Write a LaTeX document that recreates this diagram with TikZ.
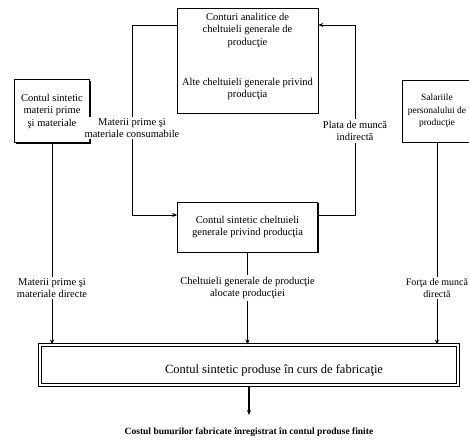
\documentclass[tikz,border=0pt]{standalone}
\usepackage{fontspec}
\setmainfont{Liberation Serif}
\usetikzlibrary{arrows.meta, positioning, shadows}

\begin{document}
\begin{tikzpicture}[x=1pt, y=-1pt,
  every node/.style={font=\fontsize{10.5}{12.5}\selectfont, align=center},
  box/.style={rectangle, draw, line width=0.6pt, fill=white, inner sep=0pt},
  shadowbox/.style={box, drop shadow={opacity=1, fill=black,
                    shadow xshift=1.3pt, shadow yshift=-1.3pt}},
  lbl/.style={fill=white, inner sep=1.5pt},
  arr/.style={-{Stealth[length=5pt, width=4pt]}, line width=0.6pt},
]
\useasboundingbox (0,0) rectangle (469,441);

% ---- boxes ----
\node[shadowbox, minimum width=141pt, minimum height=105pt] (an) at (247.5,60.5) {};
\node (antxt) at (247.5,30) {Conturi analitice de\\cheltuieli generale de\\producţie};
\node (alte) at (247.5,89) {Alte cheltuieli generale privind\\producţia};

\node[shadowbox, minimum width=75pt, minimum height=63pt] (mp) at (52,111)
  {Contul sintetic\\materii prime\\şi materiale};
\node[shadowbox, minimum width=70pt, minimum height=62pt,
      font=\fontsize{9.5}{12.5}\selectfont] (sal) at (437,111)
  {Salariile\\personalului de\\producţie};
\node[shadowbox, minimum width=140pt, minimum height=50pt] (cg) at (247.5,227)
  {Contul sintetic cheltuieli\\generale privind producţia};

\node[draw, line width=1pt, double=white, double distance=1.6pt,
      minimum width=418pt, minimum height=40pt] (pf) at (249,365) {};
\node[font=\fontsize{12.5}{14}\selectfont] (pftxt) at (274,370)
  {Contul sintetic produse în curs de fabricaţie};

% ---- loop round the overhead accounts ----
\coordinate (lt) at (132,25);
\coordinate (lb) at (132,215);
\coordinate (rt) at (355,25);
\coordinate (rb) at (355,215);
\node[lbl] (mpl) at (132,128) {Materii prime şi\\materiale consumabile};
\node[lbl] (pl) at (355,131) {Plata de muncă\\indirectă};
\draw[arr] (an.west |- lt) -- (lt) -- (mpl) -- (lb) -- (cg.west |- lb);
\draw[arr] (cg.east |- rb) -- (rb) -- (pl) -- (rt) -- (an.east |- rt);

% ---- flows into work in progress ----
\node[lbl] (mdl) at (52,288) {Materii prime şi\\materiale directe};
\node[lbl] (chl) at (247.5,288) {Cheltuieli generale de producţie\\alocate producţiei};
\node[lbl, font=\fontsize{10}{12.5}\selectfont] (fmd) at (437,288) {Forţa de muncă\\directă};
\draw[arr] (mp.south) -- (mdl) -- (mdl |- pf.north);
\draw[arr] (cg.south) -- (chl) -- (chl |- pf.north);
\draw[arr] (sal.south) -- (fmd) -- (fmd |- pf.north);

% ---- output ----
\node[font=\fontsize{9.5}{11}\selectfont\bfseries] (cost) at (249,432)
  {Costul bunurilor fabricate înregistrat în contul produse finite};
\draw[arr, line width=1.2pt, shorten >=9pt] (pf.south) -- (cost.north);

\end{tikzpicture}
\end{document}
